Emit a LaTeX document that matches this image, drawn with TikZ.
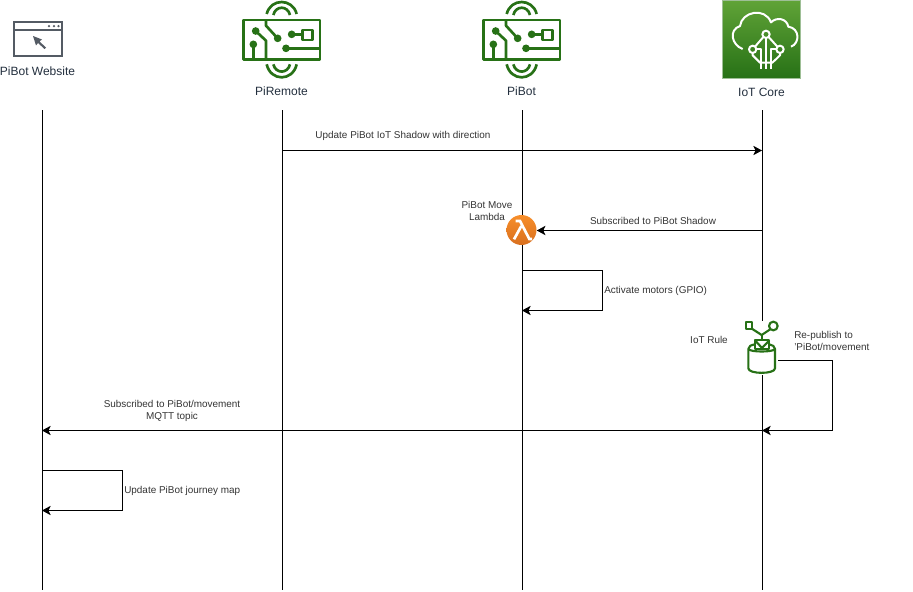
\documentclass[tikz,border=0pt]{standalone}
\usepackage{fontspec}
\setmainfont{Liberation Sans}
\usetikzlibrary{arrows.meta}
\definecolor{iconGreen}{HTML}{277116}
\definecolor{coreTopGreen}{HTML}{60A337}
\definecolor{headText}{HTML}{232F3E}
\definecolor{smallText}{HTML}{333333}
\definecolor{browserGrey}{HTML}{545B64}
\definecolor{lambdaTop}{HTML}{F78E2A}
\definecolor{lambdaBot}{HTML}{D9701F}
\tikzset{
  headLabel/.style={text=headText,font=\fontsize{9}{11}\selectfont,inner sep=0pt},
  msgLabel/.style={text=smallText,font=\fontsize{7.45}{9}\selectfont,inner sep=0pt,align=center},
  lifeLine/.style={line width=0.75pt,black},
  msgArrow/.style={line width=0.75pt,black,-{Stealth[length=6.5pt,width=7pt,inset=1.6pt]}},
  board/.pic={
    \begin{scope}[x=0.25pt,y=-0.25pt,iconGreen,line width=2pt,line join=round]
      \draw (40,60) rectangle (270,178);%
      % Drawing waves above and below
      \draw (110,42) .. controls (122,-6) and (188,-6) .. (200,42);%
      \draw (130,45) .. controls (137,16) and (173,16) .. (180,45);%
      \draw (110,193) .. controls (122,245) and (188,245) .. (200,193);%
      \draw (130,193) .. controls (137,222) and (173,222) .. (180,193);%
      % Drawing tracks
      \draw (77,93) -- (108,122) -- (108,178);%
      \draw (70,133) -- (70,178);%
      \draw (108,60) -- (108,77) -- (143,115);%
      \draw (185,103) -- (218,103);%
      \draw (218,90) rectangle (248,120);%
      \draw (168,145) -- (270,145);%
      % Marking solder points
      \fill (77,93) circle (11.5);%
      \fill (70,133) circle (11.5);%
      \fill (143,115) circle (11.5);%
      \fill (185,103) circle (11.5);%
      \fill (168,145) circle (11.5);%
    \end{scope}
  }
}
\begin{document}
\begin{tikzpicture}[x=0.75pt,y=-0.75pt]
\useasboundingbox (0,0) rectangle (913,592);

% Marking ends of lifelines
\coordinate (webTop) at (42,110);
\coordinate (webBot) at (42,590);
\coordinate (remoteTop) at (282,110);
\coordinate (remoteBot) at (282,590);
\coordinate (botTop) at (522,110);
\coordinate (botBot) at (522,590);
\coordinate (coreTop) at (762,110);
\coordinate (coreBot) at (762,590);

% Drawing lifelines
\draw [lifeLine] (webTop) -- (webBot);%
\draw [lifeLine] (remoteTop) -- (remoteBot);%
\draw [lifeLine] (botTop) -- (botBot);%
\draw [lifeLine] (coreTop) -- (coreBot);%

% Drawing browser icon
\begin{scope}[browserGrey,line width=1.5pt]
  \draw (13.5,22.5) rectangle (61.5,56.5);%
  \draw (13.5,30) -- (61.5,30);%
  \fill (49,26.2) circle (1.3) (54,26.2) circle (1.3) (58.5,26.2) circle (1.3);%
  \fill (33,36) -- (42,39.5) -- (39.5,41.5) -- (46,47.5) -- (44.5,49) -- (38,43) -- (36,45.5) -- cycle;%
\end{scope}
\node (webLabel) [headLabel] at (37.5,71) {PiBot Website};

% Drawing board icons
\pic at (230,0) {board};
\node (remoteLabel) [headLabel] at (281.5,91) {PiRemote};
\pic at (470,0) {board};
\node (botLabel) [headLabel] at (521.5,91) {PiBot};

% Drawing cloud icon
\shade [top color=coreTopGreen,bottom color=iconGreen,draw=iconGreen!45!white,line width=0.5pt] (722.5,0.5) rectangle (800.5,78);%
\begin{scope}[shift={(715,0)},x=0.25pt,y=-0.25pt,white,line width=1.5pt,line join=round]
  \draw (83,147) .. controls (50,135) and (40,90) .. (75,78) .. controls (80,35) and (150,20) .. (168,67) .. controls (185,50) and (215,55) .. (220,80) .. controls (255,85) and (255,130) .. (228,140);%
  \draw (153,103) circle (11) (113,148) circle (11) (195,148) circle (11);%
  \draw (145,111) -- (120,140);%
  \draw (161,111) -- (187,140);%
  \draw (153,114) -- (153,207);%
  \draw (124,148) -- (138,148) -- (138,207);%
  \draw (184,148) -- (168,148) -- (168,207);%
  \draw (113,159) -- (113,166) -- (135,188) -- (172,188) -- (195,166) -- (195,159);%
\end{scope}
\node (coreLabel) [headLabel] at (761.5,92) {IoT Core};

% Drawing lambda
\node (lambda) [circle,inner sep=0pt,minimum size=22.5pt,top color=lambdaTop,bottom color=lambdaBot] at (521.5,230) {};
\begin{scope}[shift={(450,190)},x=0.25pt,y=-0.25pt,white,line width=2pt]
  \draw (197,93) -- (210,93) -- (238,147) -- (246,147);%
  \draw (214,108) -- (192,148);%
\end{scope}
\node (lambdaLabel) [msgLabel] at (487,210.5) {PiBot Move\\Lambda};

% Drawing rule icon
\node (rule) [fill=white,inner sep=0pt,minimum width=24pt,minimum height=40pt] at (761.5,348) {};
\begin{scope}[shift={(735,315)},x=0.25pt,y=-0.25pt,iconGreen,line width=1.6pt,line join=round]
  \draw (33,22) rectangle (52,42);%
  \draw (115,33) circle (13);%
  \draw (52,42) -- (80,60) -- (107,42);%
  \draw (80,60) -- (80,73);%
  \draw (60,76) rectangle (103,101);%
  \draw (60,76) -- (81,99) -- (103,76);%
  \draw (60,88) .. controls (48,90) and (40,94) .. (40,102) -- (40,160) .. controls (40,178) and (120,178) .. (120,160) -- (120,102) .. controls (120,94) and (112,90) .. (103,88);%
  \draw (40,102) .. controls (45,112) and (115,112) .. (120,102);%
\end{scope}
\node (ruleLabel) [msgLabel] at (709,340) {IoT Rule};
\coordinate (ruleOut) at (778,360.5);

% Drawing message PiRemote to IoT Core
\coordinate (remoteA) at (282,150.5);
\coordinate (coreA) at (762,150.5);
\draw [msgArrow] (remoteA) -- (coreA);%
\node (shadowLabel) [msgLabel] at (403,135.5) {Update PiBot IoT Shadow with direction};

% Drawing message IoT Core to lambda
\coordinate (coreB) at (762,230.5);
\draw [msgArrow] (coreB) -- (lambda.east |- coreB);%
\node (subLabel) [msgLabel] at (653,220.5) {Subscribed to PiBot Shadow};

% Drawing motors loop
\coordinate (botC) at (522,270.5);
\coordinate (botD) at (522,310.5);
\draw [msgArrow] (botC) -- (602.5,270.5) -- (602.5,310.5) -- (botD);%
\node (motorLabel) [msgLabel,anchor=west] at (604,290.5) {Activate motors (GPIO)};

% Drawing republish loop
\coordinate (coreE) at (762,430.5);
\draw [msgArrow] (ruleOut) -- (832.5,360.5) -- (832.5,430.5) -- (coreE);%
\node (republishLabel) [msgLabel,anchor=west,align=left] at (794,341) {Re-publish to\\'PiBot/movement};

% Drawing message IoT Core to website
\coordinate (webE) at (42,430.5);
\draw [msgArrow] (coreE) -- (webE);%
\node (mqttLabel) [msgLabel] at (172,411) {Subscribed to PiBot/movement\\MQTT topic};

% Drawing journey loop
\coordinate (webF) at (42,470.5);
\coordinate (webG) at (42,510.5);
\draw [msgArrow] (webF) -- (122.5,470.5) -- (122.5,510.5) -- (webG);%
\node (journeyLabel) [msgLabel,anchor=west] at (124,491) {Update PiBot journey map};
\end{tikzpicture}
\end{document}
